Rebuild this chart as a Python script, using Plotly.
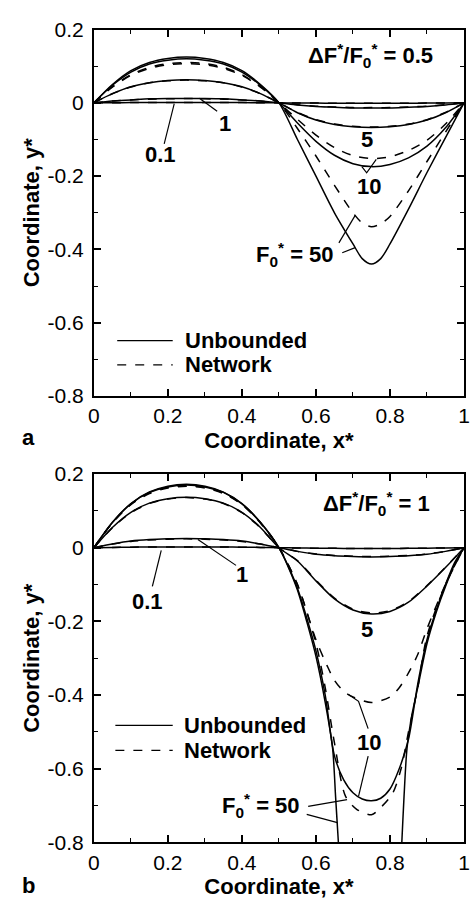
import plotly.graph_objects as go

# ---------------- data ----------------
X_POS = [0.0, 0.05, 0.1, 0.15, 0.2, 0.25, 0.3, 0.35, 0.4, 0.45, 0.5]
X_NEG = [0.55, 0.6, 0.65, 0.7, 0.75, 0.8, 0.85, 0.9, 0.95, 1.0]

X_TICKS = [0, 0.2, 0.4, 0.6, 0.8, 1.0]
X_TICKTEXT = ["0", "0.2", "0.4", "0.6", "0.8", "1"]
X_MINOR = [0.1, 0.3, 0.5, 0.7, 0.9]
Y_TICKS = [0.2, 0, -0.2, -0.4, -0.6, -0.8]
Y_TICKTEXT = ["0.2", "0", "-0.2", "-0.4", "-0.6", "-0.8"]
Y_MINOR = [0.1, -0.1, -0.3, -0.5, -0.7]

# ---- panel a : dF*/F0* = 0.5 ----
a_u01_pos = [0, 0.0004, 0.0007, 0.0009, 0.001, 0.001, 0.001, 0.0009, 0.0007, 0.0004, 0]
a_u01_neg = [-0.0004, -0.0007, -0.0009, -0.001, -0.001, -0.001, -0.0009, -0.0007, -0.0004, 0]
a_n01_pos = [0, 0.0004, 0.0007, 0.0009, 0.001, 0.001, 0.001, 0.0009, 0.0007, 0.0004, 0]
a_n01_neg = [-0.0004, -0.0007, -0.0009, -0.001, -0.001, -0.001, -0.0009, -0.0007, -0.0004, 0]

a_u1_pos = [0, 0.005, 0.008, 0.011, 0.012, 0.012, 0.012, 0.011, 0.008, 0.005, 0]
a_u1_neg = [-0.006, -0.010, -0.012, -0.014, -0.014, -0.014, -0.012, -0.010, -0.006, 0]
a_n1_pos = [0, 0.005, 0.008, 0.010, 0.011, 0.012, 0.011, 0.010, 0.008, 0.005, 0]
a_n1_neg = [-0.005, -0.009, -0.011, -0.013, -0.013, -0.013, -0.011, -0.009, -0.005, 0]

a_u5_pos = [0, 0.025, 0.044, 0.055, 0.061, 0.063, 0.061, 0.055, 0.044, 0.025, 0]
a_u5_neg = [-0.027, -0.047, -0.059, -0.065, -0.067, -0.065, -0.059, -0.047, -0.027, 0]
a_n5_pos = [0, 0.025, 0.043, 0.055, 0.060, 0.062, 0.060, 0.055, 0.043, 0.025, 0]
a_n5_neg = [-0.026, -0.046, -0.058, -0.064, -0.066, -0.064, -0.058, -0.046, -0.026, 0]

a_u10_pos = [0, 0.048, 0.084, 0.106, 0.116, 0.120, 0.116, 0.106, 0.084, 0.048, 0]
a_u10_neg = [-0.055, -0.105, -0.143, -0.166, -0.174, -0.168, -0.150, -0.118, -0.068, 0]
a_n10_pos = [0, 0.044, 0.077, 0.097, 0.107, 0.110, 0.107, 0.097, 0.077, 0.044, 0]
a_n10_neg = [-0.045, -0.088, -0.122, -0.144, -0.152, -0.147, -0.130, -0.102, -0.058, 0]

a_u50_pos = [0, 0.050, 0.088, 0.110, 0.121, 0.125, 0.121, 0.110, 0.088, 0.050, 0]
a_50_negx = [0.55, 0.6, 0.65, 0.7, 0.725, 0.75, 0.775, 0.8, 0.85, 0.9, 0.95, 1.0]
a_u50_neg = [-0.10, -0.20, -0.30, -0.385, -0.425, -0.44, -0.425, -0.385, -0.29, -0.19, -0.095, 0]
a_n50_pos = [0, 0.043, 0.075, 0.094, 0.104, 0.107, 0.104, 0.094, 0.075, 0.043, 0]
a_n50_neg = [-0.07, -0.145, -0.225, -0.30, -0.328, -0.338, -0.330, -0.31, -0.24, -0.16, -0.08, 0]

# ---- panel b : dF*/F0* = 1 ----
b_u01_pos = [0, 0.0008, 0.0014, 0.0018, 0.002, 0.002, 0.002, 0.0018, 0.0014, 0.0008, 0]
b_u01_neg = [-0.0008, -0.0014, -0.0018, -0.002, -0.002, -0.002, -0.0018, -0.0014, -0.0008, 0]
b_n01_pos = [0, 0.0008, 0.0014, 0.0018, 0.002, 0.002, 0.002, 0.0018, 0.0014, 0.0008, 0]
b_n01_neg = [-0.0008, -0.0014, -0.0018, -0.002, -0.002, -0.002, -0.0018, -0.0014, -0.0008, 0]

b_u1_pos = [0, 0.010, 0.018, 0.022, 0.024, 0.025, 0.024, 0.022, 0.018, 0.010, 0]
b_u1_neg = [-0.010, -0.018, -0.022, -0.024, -0.025, -0.024, -0.022, -0.018, -0.010, 0]
b_n1_pos = [0, 0.010, 0.017, 0.021, 0.023, 0.024, 0.023, 0.021, 0.017, 0.010, 0]
b_n1_neg = [-0.010, -0.017, -0.021, -0.023, -0.024, -0.023, -0.021, -0.017, -0.010, 0]

b_u5_pos = [0, 0.055, 0.096, 0.121, 0.133, 0.137, 0.133, 0.121, 0.096, 0.055, 0]
b_u5_neg = [-0.036, -0.090, -0.139, -0.169, -0.180, -0.173, -0.148, -0.104, -0.054, 0]
b_n5_pos = [0, 0.054, 0.095, 0.120, 0.132, 0.136, 0.132, 0.120, 0.095, 0.054, 0]
b_n5_neg = [-0.035, -0.088, -0.137, -0.167, -0.177, -0.171, -0.146, -0.103, -0.053, 0]

b_u10_pos = [0, 0.068, 0.119, 0.150, 0.165, 0.170, 0.165, 0.150, 0.119, 0.068, 0]
b_u10_negx = [0.525, 0.55, 0.575, 0.6, 0.625, 0.65, 0.675, 0.7, 0.725, 0.75, 0.775, 0.8,
              0.825, 0.85, 0.875, 0.9, 0.925, 0.95, 0.975, 1.0]
b_u10_neg = [-0.05, -0.11, -0.19, -0.28, -0.40, -0.565, -0.63, -0.665, -0.682, -0.687, -0.680, -0.655,
             -0.60, -0.52, -0.37, -0.25, -0.17, -0.10, -0.04, 0]
b_n10_pos = [0, 0.067, 0.117, 0.147, 0.162, 0.167, 0.162, 0.147, 0.117, 0.067, 0]
b_n10_negx = [0.55, 0.6, 0.63, 0.65, 0.675, 0.7, 0.75, 0.8, 0.825, 0.85, 0.875, 0.9, 0.95, 1.0]
b_n10_neg = [-0.10, -0.25, -0.32, -0.36, -0.39, -0.405, -0.42, -0.405, -0.38, -0.34, -0.29, -0.22, -0.10, 0]

b_u50_pos = [0, 0.069, 0.120, 0.151, 0.167, 0.172, 0.167, 0.151, 0.120, 0.069, 0]
b_u50_negx = [0.525, 0.55, 0.575, 0.6, 0.625, 0.645, 0.653, 0.66, 0.67, 0.69, 0.72, 0.75, 0.78, 0.81,
              0.825, 0.832, 0.838, 0.846, 0.86, 0.875, 0.9, 0.925, 0.95, 0.975, 1.0]
b_u50_neg = [-0.052, -0.115, -0.20, -0.295, -0.42, -0.545, -0.675, -0.79, -0.95, -1.15, -1.32, -1.38,
             -1.32, -1.15, -0.95, -0.80, -0.675, -0.545, -0.45, -0.38, -0.26, -0.175, -0.105, -0.045, 0]
b_n50_pos = [0, 0.068, 0.118, 0.149, 0.164, 0.169, 0.164, 0.149, 0.118, 0.068, 0]
b_n50_negx = [0.55, 0.6, 0.625, 0.65, 0.68, 0.71, 0.75, 0.77, 0.807, 0.83, 0.85, 0.875, 0.9, 0.95, 1.0]
b_n50_neg = [-0.10, -0.26, -0.38, -0.53, -0.675, -0.71, -0.725, -0.71, -0.667, -0.60, -0.50, -0.38,
             -0.24, -0.10, 0]

PANEL_A = [
    ("solid", a_u01_pos, X_NEG, a_u01_neg), ("dash", a_n01_pos, X_NEG, a_n01_neg),
    ("solid", a_u1_pos, X_NEG, a_u1_neg), ("dash", a_n1_pos, X_NEG, a_n1_neg),
    ("solid", a_u5_pos, X_NEG, a_u5_neg), ("dash", a_n5_pos, X_NEG, a_n5_neg),
    ("solid", a_u10_pos, X_NEG, a_u10_neg), ("dash", a_n10_pos, X_NEG, a_n10_neg),
    ("solid", a_u50_pos, a_50_negx, a_u50_neg), ("dash", a_n50_pos, a_50_negx, a_n50_neg),
]
PANEL_B = [
    ("solid", b_u01_pos, X_NEG, b_u01_neg), ("dash", b_n01_pos, X_NEG, b_n01_neg),
    ("solid", b_u1_pos, X_NEG, b_u1_neg), ("dash", b_n1_pos, X_NEG, b_n1_neg),
    ("solid", b_u5_pos, X_NEG, b_u5_neg), ("dash", b_n5_pos, X_NEG, b_n5_neg),
    ("solid", b_u10_pos, b_u10_negx, b_u10_neg), ("dash", b_n10_pos, b_n10_negx, b_n10_neg),
    ("solid", b_u50_pos, b_u50_negx, b_u50_neg), ("dash", b_n50_pos, b_n50_negx, b_n50_neg),
]

# ---------------- figure ----------------
W, H = 470, 909
FONT = "Liberation Sans, Arial, Helvetica, sans-serif"
fig = go.Figure()

for panel, (xa, ya) in ((PANEL_A, ("x", "y")), (PANEL_B, ("x2", "y2"))):
    for dash, pos_y, neg_x, neg_y in panel:
        fig.add_trace(go.Scatter(
            x=X_POS + neg_x, y=pos_y + neg_y, mode="lines",
            line=dict(color="black", width=1.5, dash=dash, shape="spline", smoothing=0.8),
            xaxis=xa, yaxis=ya, showlegend=False, hoverinfo="skip"))

BOLD = dict(family=FONT, size=22, color="black", weight="bold")

def xaxis_style(domain, anchor):
    return dict(domain=domain, anchor=anchor, range=[0, 1], tickmode="array",
                tickvals=X_TICKS, ticktext=X_TICKTEXT, ticks="inside", ticklen=7, tickwidth=1.5,
                tickcolor="black", showline=True, linewidth=2, linecolor="black", mirror="allticks",
                showgrid=False, zeroline=False, tickfont=dict(family=FONT, size=21, color="black"),
                ticklabeloverflow="allow",
                minor=dict(tickmode="array", tickvals=X_MINOR, ticks="inside", ticklen=4,
                           tickwidth=1.2, tickcolor="black", showgrid=False),
                title=dict(text="Coordinate, x*", font=BOLD, standoff=6))

def yaxis_style(domain, anchor):
    return dict(domain=domain, anchor=anchor, range=[-0.8, 0.2], tickmode="array",
                tickvals=Y_TICKS, ticktext=Y_TICKTEXT, ticks="inside", ticklen=7, tickwidth=1.5,
                tickcolor="black", showline=True, linewidth=2, linecolor="black", mirror="allticks",
                showgrid=False, zeroline=False, tickfont=dict(family=FONT, size=21, color="black"),
                ticklabelstandoff=4,
                minor=dict(tickmode="array", tickvals=Y_MINOR, ticks="inside", ticklen=4,
                           tickwidth=1.2, tickcolor="black", showgrid=False),
                title=dict(text="Coordinate, y*", font=BOLD, standoff=2))

XDOM = [90 / 469, 1.0]
YDOM_A = [(H - 394) / H, (H - 18) / H]
YDOM_B = [(H - 852) / H, (H - 474) / H]

fig.update_layout(
    width=W, height=H, margin=dict(l=0, r=1, t=0, b=0),
    paper_bgcolor="white", plot_bgcolor="white", showlegend=False,
    xaxis=xaxis_style(XDOM, "y"), yaxis=yaxis_style(YDOM_A, "x"),
    xaxis2=xaxis_style(XDOM, "y2"), yaxis2=yaxis_style(YDOM_B, "x2"),
)

def label(text, x, y, xr, yr, xanchor="center", yanchor="middle"):
    fig.add_annotation(text=text, x=x, y=y, xref=xr, yref=yr, showarrow=False,
                       xanchor=xanchor, yanchor=yanchor, font=BOLD)

def leader(pts, xr, yr, dash="solid"):
    path = "M " + " L ".join(f"{px},{py}" for px, py in pts)
    fig.add_shape(type="path", path=path, xref=xr, yref=yr, line=dict(color="black", width=1.2, dash=dash))

# panel a annotations
label("ΔF<sup>*</sup>/F<sub>0</sub><sup>*</sup> = 0.5", 0.921, 0.13, "x", "y", xanchor="right")
label("0.1", 0.179, -0.142, "x", "y")
leader([(0.190, -0.112), (0.217, -0.003)], "x", "y")
label("1", 0.353, -0.057, "x", "y")
leader([(0.333, -0.023), (0.285, 0.0125)], "x", "y")
label("5", 0.737, -0.10, "x", "y")
label("10", 0.743, -0.227, "x", "y")
leader([(0.724, -0.174), (0.737, -0.191), (0.763, -0.154)], "x", "y")
label("F<sub>0</sub><sup>*</sup> = 50", 0.653, -0.415, "x", "y", xanchor="right")
leader([(0.662, -0.382), (0.706, -0.307)], "x", "y")
leader([(0.671, -0.409), (0.706, -0.395)], "x", "y")
# legend a
leader([(0.063, -0.649), (0.213, -0.649)], "x", "y")
leader([(0.063, -0.715), (0.213, -0.715)], "x", "y", dash="dash")
label("Unbounded", 0.242, -0.649, "x", "y", xanchor="left")
label("Network", 0.242, -0.715, "x", "y", xanchor="left")

# panel b annotations
label("ΔF<sup>*</sup>/F<sub>0</sub><sup>*</sup> = 1", 0.913, 0.121, "x2", "y2", xanchor="right")
label("0.1", 0.145, -0.145, "x2", "y2")
leader([(0.158, -0.105), (0.182, -0.007)], "x2", "y2")
label("1", 0.399, -0.074, "x2", "y2")
leader([(0.281, 0.022), (0.384, -0.048)], "x2", "y2")
label("5", 0.737, -0.221, "x2", "y2")
label("10", 0.743, -0.530, "x2", "y2")
leader([(0.741, -0.491), (0.715, -0.417), (0.689, -0.399)], "x2", "y2")
leader([(0.741, -0.566), (0.715, -0.675)], "x2", "y2")
label("F<sub>0</sub><sup>*</sup> = 50", 0.561, -0.701, "x2", "y2", xanchor="right")
leader([(0.579, -0.702), (0.684, -0.684)], "x2", "y2")
leader([(0.575, -0.724), (0.658, -0.746)], "x2", "y2")
# legend b
leader([(0.058, -0.482), (0.213, -0.482)], "x2", "y2")
leader([(0.058, -0.550), (0.213, -0.550)], "x2", "y2", dash="dash")
label("Unbounded", 0.239, -0.482, "x2", "y2", xanchor="left")
label("Network", 0.239, -0.550, "x2", "y2", xanchor="left")

# panel letters
label("a", 23 / W, (H - 437) / H, "paper", "paper")
label("b", 23 / W, (H - 896) / H, "paper", "paper")

fig.write_html("out.html")
